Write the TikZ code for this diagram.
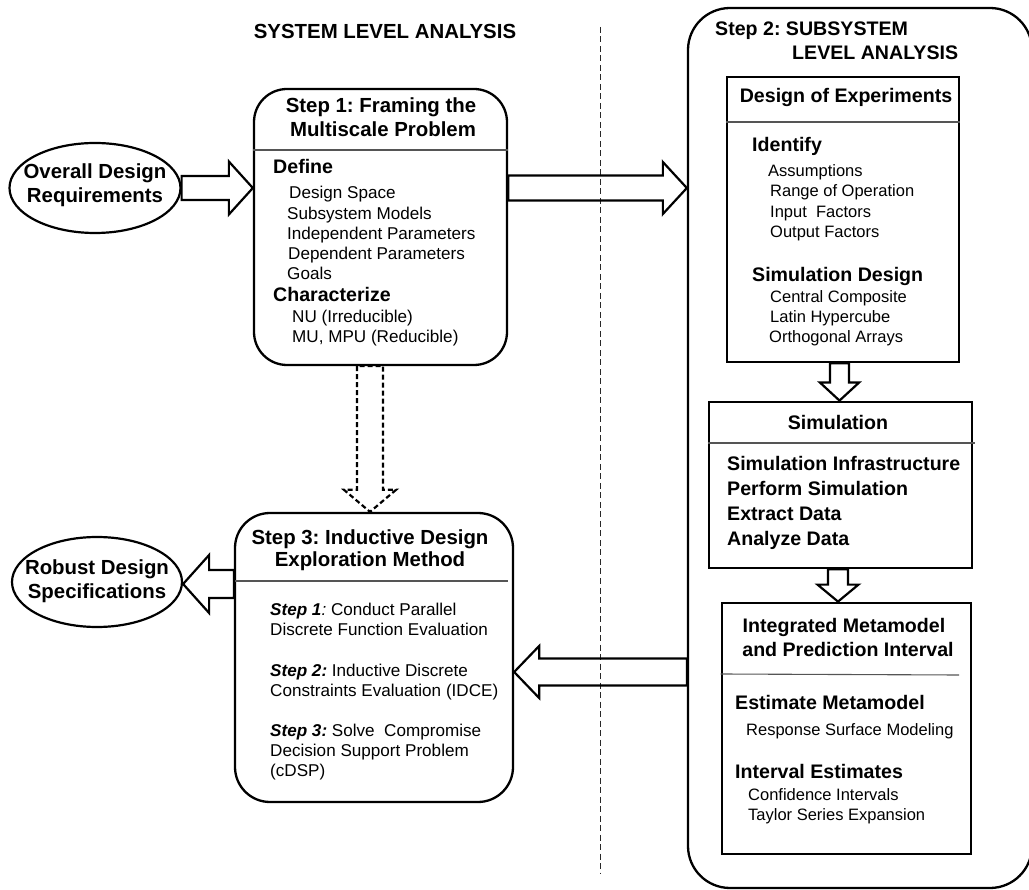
\documentclass[tikz,border=0pt]{standalone}
\usepackage{fontspec}
\setmainfont{Liberation Sans}
\usetikzlibrary{shapes.geometric,fit,calc}

\definecolor{flow@ink}{RGB}{0,0,0}
\definecolor{flow@rule}{RGB}{85,85,85}
\definecolor{flow@guide}{RGB}{40,40,40}

% Type sizes; the picture runs on a 1pt = 1 grid unit layout
\newcommand{\flowbig}{\fontsize{20.4}{24}\selectfont\bfseries}
\newcommand{\flowhead}{\fontsize{19.6}{24}\selectfont\bfseries}
\newcommand{\flowitem}{\fontsize{17.1}{20}\selectfont}
\newcommand{\flowsmall}{\fontsize{16.5}{20}\selectfont}
\newcommand{\steptag}[1]{\textbf{\textit{#1}}}

% Hollow block arrow from #2 to #3: #4 half shaft, #5 half head, #6 head length
\newcommand{\fatarrow}[6][]{%
  \draw[fatline, #1] let \p1=(#2), \p2=(#3),
      \n1={atan2(\y2-\y1,\x2-\x1)}, \n2={veclen(\x2-\x1,\y2-\y1)} in
    [shift={(\p1)}, rotate=\n1]
    (0,#4) -- ({\n2-#6},#4) -- ({\n2-#6},#5) -- (\n2,0)
    -- ({\n2-#6},-#5) -- ({\n2-#6},-#4) -- (0,-#4) -- cycle;
}

\begin{document}
\frenchspacing
\begin{tikzpicture}[x=1pt, y=-1pt, line join=miter, text=flow@ink,
    roundbox/.style={draw=flow@ink, line width=2.3pt, inner sep=0pt},
    rectbox/.style={draw=flow@ink, line width=2.8pt, inner sep=0pt},
    oval/.style={ellipse, draw=flow@ink, line width=2.2pt, inner sep=0pt,
      minimum width=171pt, minimum height=90pt},
    fatline/.style={draw=flow@ink, line width=2.2pt},
    dashline/.style={dash pattern=on 5pt off 3pt},
    rule/.style={draw=flow@rule, line width=1.1pt},
    title/.style={anchor=base, inner sep=0pt, font=\flowhead},
    head/.style={anchor=base west, inner sep=0pt, font=\flowhead},
    item/.style={anchor=base west, inner sep=0pt, font=\flowitem},
    subitem/.style={item, font=\flowsmall}]

  \path[use as bounding box] (0,0) rectangle (1029,890);
  \clip (0,0) rectangle (1029,890);

  % ---- DIVIDER BETWEEN THE TWO LEVELS ----
  \draw[flow@guide, line width=1pt, dash pattern=on 6pt off 3.5pt] (600,27) -- (600,873);
  \node[title, font=\flowbig] (syslevel) at (385,39) {SYSTEM LEVEL ANALYSIS};

  % ---- INPUT / OUTPUT OVALS ----
  \node[oval] (req) at (95,188) {};
  \node[align=center, inner sep=0pt, font=\flowbig] (reqtext)
    at ([yshift=3pt]req.center) {Overall Design\\Requirements};
  \node[oval, minimum width=170pt] (spec) at (97,582) {};
  \node[align=center, inner sep=0pt, font=\flowbig] (spectext)
    at ([yshift=1pt]spec.center) {Robust Design\\Specifications};

  % ---- STEP 1 ----
  \node[roundbox, rounded corners=33pt, fit={(254,89) (507,365)}] (step1) {};
  \node[title, font=\flowbig] (s1t1) at (381,113) {Step 1: Framing the};
  \node[title, font=\flowbig] (s1t2) at (383,137) {Multiscale Problem};
  \draw[rule] (step1.west |- 0,150) -- (step1.east |- 0,150);
  \node[head] (define) at (273,174) {Define};
  \foreach \x/\y/\txt [count=\i] in {289/199/Design Space, 287/220/Subsystem Models,
      287/240/Independent Parameters, 288/260/Dependent Parameters, 287/280/Goals}
    \node[item] (def\i) at (\x,\y) {\txt};
  \node[head] (charact) at (273,302) {Characterize};
  \foreach \y/\txt [count=\i] in {323/NU (Irreducible), 343/{MU, MPU (Reducible)}}
    \node[item] (chr\i) at (292,\y) {\txt};

  % ---- STEP 3 ----
  \node[roundbox, rounded corners=35pt, fit={(235,513) (513,802)}] (step3) {};
  \node[title, font=\flowbig] (s3t1) at (370,544) {Step 3: Inductive Design};
  \node[title, font=\flowbig] (s3t2) at (370,567) {Exploration Method};
  \draw[rule] (step3.west |- 0,581) -- (508,581);
  \foreach \y/\txt [count=\i] in {
      615/{\steptag{Step 1}\textit{:} Conduct Parallel},
      635/{Discrete Function Evaluation},
      676/{\steptag{Step 2:} Inductive Discrete},
      696/{Constraints Evaluation (IDCE)},
      736/{\steptag{Step 3:} Solve\ \ Compromise},
      756/{Decision Support Problem},
      776/{(cDSP)}}
    \node[item] (idem\i) at (270,\y) {\txt};

  % ---- STEP 2 (runs off the right edge) ----
  \node[roundbox, rounded corners=42pt, fit={(688,8) (1032,888)}] (step2) {};
  \node[head] (s2t1) at (715,36) {Step 2: SUBSYSTEM};
  \node[head] (s2t2) at (792,60) {LEVEL ANALYSIS};

  % design of experiments
  \node[rectbox, fit={(727,77) (959,362)}] (doe) {};
  \node[title] (doet) at (846,103) {Design of Experiments};
  \draw[rule] (doe.west |- 0,122) -- (doe.east |- 0,122);
  \node[head] (ident) at (752,152) {Identify};
  \foreach \x/\y/\txt [count=\i] in {768/177/Assumptions, 770/197/Range of Operation,
      770/218/{Input\ \ Factors}, 770/238/Output Factors}
    \node[subitem] (idf\i) at (\x,\y) {\txt};
  \node[head] (simdes) at (752,282) {Simulation Design};
  \foreach \x/\y/\txt [count=\i] in {770/303/Central Composite, 770/323/Latin Hypercube,
      769/343/Orthogonal Arrays}
    \node[subitem] (sdg\i) at (\x,\y) {\txt};

  % simulation
  \node[rectbox, fit={(709,402) (972,568)}] (sim) {};
  \node[title] (simt) at (838,430) {Simulation};
  \draw[rule] (sim.west |- 0,443) -- (975,443);
  \foreach \y/\txt [count=\i] in {471/Simulation Infrastructure, 496/Perform Simulation,
      521/Extract Data, 546/Analyze Data}
    \node[head] (run\i) at (727,\y) {\txt};

  % metamodel
  \node[rectbox, fit={(722,603) (971,854)}] (meta) {};
  \node[title] (metat1) at (844,632) {Integrated Metamodel};
  \node[title] (metat2) at (848,656) {and Prediction Interval};
  \draw[rule] (meta.west |- 0,674) -- (959,675);
  \node[head] (estm) at (735,709) {Estimate Metamodel};
  \node[subitem] (rsm) at (746,735) {Response Surface Modeling};
  \node[head] (intv) at (735,778) {Interval Estimates};
  \foreach \y/\txt [count=\i] in {800/Confidence Intervals, 820/Taylor Series Expansion}
    \node[subitem] (iest\i) at (748,\y) {\txt};

  % ---- BLOCK ARROWS ----
  \fatarrow{req.east}{step1.west |- req.east}{12}{26.5}{24}
  \fatarrow{step1.east |- req.east}{step2.west |- req.east}{12.5}{26}{24}
  \fatarrow{step2.west |- 0,672}{step3.east |- 0,672}{13.5}{26}{25}
  \fatarrow{step3.west |- 0,584}{spec.east |- 0,584}{14}{29}{26}
  \fatarrow[dashline]{step1.south -| 370,0}{step3.north -| 370,0}{13}{26}{22}
  \fatarrow{doe.south -| 839.5,0}{sim.north -| 839.5,0}{9.5}{19.5}{18}
  \fatarrow{sim.south -| 838,0}{meta.north -| 838,0}{10}{20.5}{17}
\end{tikzpicture}
\end{document}
